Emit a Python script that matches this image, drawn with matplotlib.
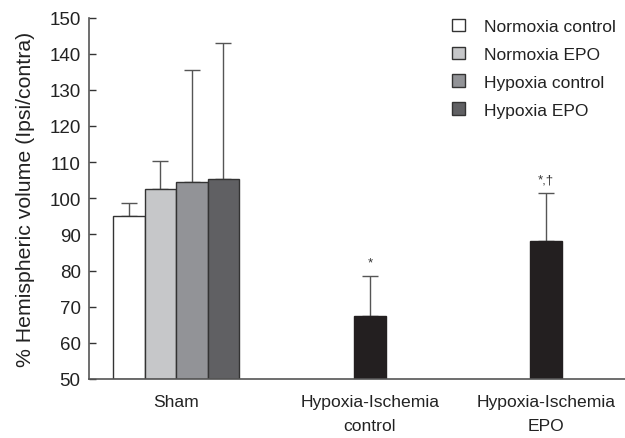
import matplotlib
matplotlib.use("Agg")
import matplotlib.pyplot as plt
from matplotlib.patches import Patch

plt.rcParams['font.family'] = ['Liberation Sans', 'DejaVu Sans']

categories = ["Sham", "Hypoxia-Ischemia\ncontrol", "Hypoxia-Ischemia\nEPO"]
series = ["Normoxia control", "Normoxia EPO", "Hypoxia control", "Hypoxia EPO"]
sham_means = [95.2, 102.6, 104.5, 105.4]
sham_err = [3.6, 7.8, 31.1, 37.6]
hi_means = [67.3, 88.3]
hi_err = [11.2, 13.1]
hi_marks = ["*", "*,\u2020"]

colors = ["#ffffff", "#c6c7c9", "#929397", "#606063"]
hi_color = "#231f20"
edge = "#333333"

fig = plt.figure(figsize=(6.25, 4.39), dpi=100)
ax = fig.add_axes([89/625, 1-380/439, 1-89/625, (380-18.5)/439])

centers = [176, 370, 546]
w = 31.5
offsets = [-1.5*w, -0.5*w, 0.5*w, 1.5*w]
for i, (m, e) in enumerate(zip(sham_means, sham_err)):
    x = centers[0] + offsets[i]
    ax.bar(x, m - 50, width=w, bottom=50, color=colors[i], edgecolor=edge, linewidth=1.0, zorder=2)
    ax.errorbar(x, m, yerr=[[0], [e]], fmt='none', ecolor="#555555", elinewidth=1.0, capsize=6, capthick=1.0, zorder=1)
for j, (m, e) in enumerate(zip(hi_means, hi_err)):
    x = centers[j+1]
    ax.bar(x, m - 50, width=w, bottom=50, color=hi_color, edgecolor=hi_color, linewidth=1.0, zorder=2)
    ax.errorbar(x, m, yerr=[[0], [e]], fmt='none', ecolor="#555555", elinewidth=1.0, capsize=6, capthick=1.0, zorder=1)
    ax.text(x, m + e + 2.2, hi_marks[j], ha='center', va='bottom', fontsize=9.5, color="#333333")

ax.set_xlim(89, 625)
ax.set_ylim(50, 150)
ax.set_yticks(range(50, 151, 10))
ax.tick_params(axis='y', direction='in', length=5, width=1, labelsize=13.5, pad=6,
               colors="#333333", labelcolor="#222222")
ax.set_xticks(centers)
ax.set_xticklabels(categories, fontsize=12.6, color="#222222", linespacing=1.75)
ax.tick_params(axis='x', length=0, pad=11)
for s in ['top', 'right']:
    ax.spines[s].set_visible(False)
for s in ['left', 'bottom']:
    ax.spines[s].set_color("#555555")
    ax.spines[s].set_linewidth(1.2)
ax.set_ylabel("% Hemispheric volume (Ipsi/contra)", fontsize=15.3, color="#222222")
ax.yaxis.set_label_coords(-0.101, 0.5)

handles = [Patch(facecolor=c, edgecolor=edge, linewidth=1.0) for c in colors]
leg = ax.legend(handles, series, loc='upper left', bbox_to_anchor=(436/625, 1 - 4/439), bbox_transform=fig.transFigure,
                frameon=False, fontsize=12.5, handlelength=0.75, handleheight=0.75, handletextpad=1.1,
                labelspacing=0.72)
for t in leg.get_texts():
    t.set_color("#222222")

fig.savefig("out.png", dpi=100)
